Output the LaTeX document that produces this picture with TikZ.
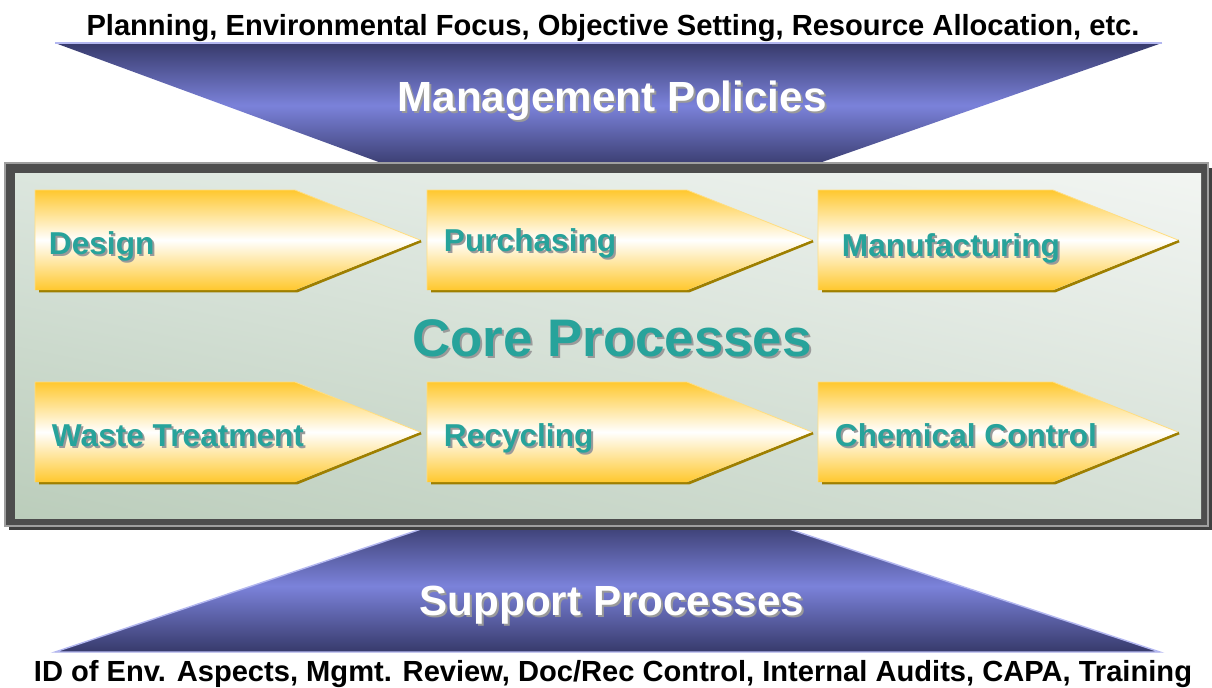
\documentclass[tikz,border=0pt]{standalone}
\usepackage{fontspec}
\setmainfont{Liberation Sans}
\usetikzlibrary{shadings}
\definecolor{navy}{HTML}{373A6B}
\definecolor{peri}{HTML}{7B82DA}
\definecolor{lavender}{HTML}{B3B7F0}
\definecolor{gold}{HTML}{FFC82E}
\definecolor{golddark}{HTML}{9E7F00}
\definecolor{coreteal}{HTML}{27A39B}
\definecolor{frameg}{HTML}{4D4D4D}
\definecolor{shadowg}{HTML}{9A9A9A}
\definecolor{sageUL}{HTML}{DCE6DE}
\definecolor{sageUR}{HTML}{F2F5F2}
\definecolor{sageLL}{HTML}{BBCDBB}
\definecolor{sageLR}{HTML}{D5E0D6}

\begin{document}
\begin{tikzpicture}[x=0.025cm,y=-0.025cm,
  chev/.style={top color=gold,bottom color=gold,middle color=white},
  chevedge/.style={golddark,line width=2pt},
  steplbl/.style={anchor=base west,font=\fontsize{22.5}{26}\selectfont\bfseries},
  title/.style={anchor=base,font=\fontsize{30}{34}\selectfont\bfseries},
  note/.style={anchor=base,font=\fontsize{20.7}{24}\selectfont\bfseries}]
 \useasboundingbox (0,0) rectangle (1212,687);
 \node[note] (plan) at (613,35) {Planning, Environmental Focus, Objective Setting, Resource Allocation, etc.}; %上の説明
 % management policies
 \shade[top color=navy,bottom color=navy,middle color=peri] (55,43)--(1162,43)--(805,168)--(395,168)--cycle;
 \draw[lavender,line width=1.2pt] (55,43)--(1162,43);
 \node[title,text=shadowg] at (614,113) {Management Policies};
 \node[title,text=white] (mgmt) at (612,111) {Management Policies};
 % support processes
 \shade[top color=navy,bottom color=navy,middle color=peri] (448,520)--(762,520)--(1160,652)--(55,652)--cycle;
 \draw[lavender,line width=1pt] (448,520)--(55,652)--(1160,652)--(762,520);
 \node[title,text=shadowg] at (614,617) {Support Processes};
 \node[title,text=white] (supp) at (612,615) {Support Processes};
 \node[note] (audit) at (613,681) {ID of Env. Aspects, Mgmt. Review, Doc/Rec Control, Internal Audits, CAPA, Training}; %下の説明
 % core processes frame
 \fill[black!75] (9,168) rectangle (1212,530);
 \fill[gray!75] (4,162) rectangle (1209,527);
 \fill[frameg] (6,164) rectangle (1207,525);
 \shade[upper left=sageUL,upper right=sageUR,lower left=sageLL,lower right=sageLR] (15,173) rectangle (1201,518);
 \node[anchor=base,font=\fontsize{37.6}{42}\selectfont\bfseries,text=shadowg] at (614,358) {Core Processes};
 \node[anchor=base,font=\fontsize{37.6}{42}\selectfont\bfseries,text=coreteal] (core) at (612,356) {Core Processes};
 \foreach \cx/\cy/\cw/\lx/\ly/\nm/\txt in {35/190/385/44/254/design/Design,
     427/190/385/439/251/purch/Purchasing,
     818/190/360/837/256/manuf/Manufacturing,
     35/382/385/47/446/waste/Waste Treatment,
     427/382/385/439/446/recyc/Recycling,
     818/382/360/830/446/chem/Chemical Control}{
   \draw[chevedge] (\cx+4,\cy+101)--(\cx+\cw-123,\cy+101)--(\cx+\cw+1,\cy+51);
   \shade[chev] (\cx,\cy)--(\cx+\cw-125,\cy)--(\cx+\cw,\cy+50)--(\cx+\cw-125,\cy+100)--(\cx,\cy+100)--cycle;
   \draw[gold!60,line width=0.6pt] (\cx,\cy+100)--(\cx,\cy)--(\cx+\cw-125,\cy)--(\cx+\cw,\cy+50);
   \node[steplbl,text=shadowg] at (\lx+2,\ly+2) {\txt};
   \node[steplbl,text=coreteal] (\nm) at (\lx,\ly) {\txt};
 }
\end{tikzpicture}
\end{document}
